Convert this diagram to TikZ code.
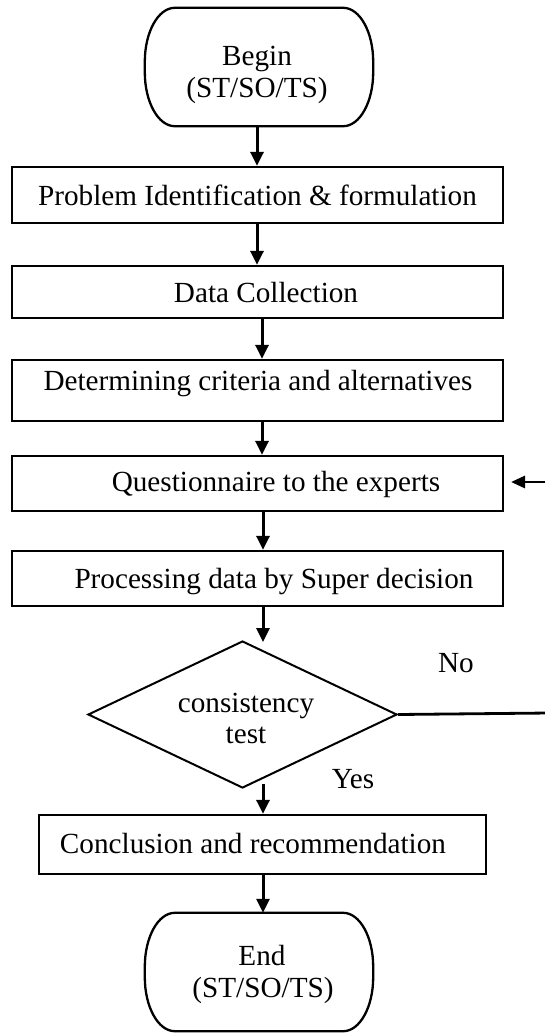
\documentclass[tikz,border=0pt]{standalone}
\usepackage{fontspec}
\setmainfont{Liberation Serif}
\usetikzlibrary{arrows.meta,shapes.geometric}
\begin{document}
\begin{tikzpicture}[x=1pt,y=-1pt,
  box/.style={draw,line width=2.3pt,minimum width=491pt,inner sep=0pt},
  termnode/.style={minimum width=228pt,minimum height=118pt,inner sep=0pt},
  termline/.style={line width=2.3pt},
  txt/.style={font=\fontsize{29.2}{32}\selectfont,inner sep=0pt,anchor=base},
  arr/.style={line width=3pt,-{Triangle[length=14pt,width=13pt]}},
  fb/.style={line width=2.8pt}]
\useasboundingbox (0,0) rectangle (545,1034);
\clip (0,0) rectangle (545,1034);

% shapes
\node[termnode] (begin) at (259,67) {};
\node[box,minimum height=56pt] (b1) at (257.5,195) {};
\node[box,minimum height=52pt] (b2) at (257.5,292) {};
\node[box,minimum height=61pt] (b3) at (257.5,390.5) {};
\node[box,minimum height=55pt] (b4) at (257.5,483.5) {};
\node[box,minimum height=55pt] (b5) at (257.5,578.5) {};
\node[draw,line width=2pt,diamond,aspect=2.1,minimum width=309pt,minimum height=147pt,inner sep=0pt] (d) at (242.5,714.5) {};
\node[box,minimum width=447pt,minimum height=59pt] (b6) at (262.5,844.5) {};
\node[termnode] (end) at (259,972) {};

% terminal outlines (elliptical ends)
\foreach \t in {begin,end}{
  \draw[termline] ([xshift=30pt]\t.north west) -- ([xshift=-30pt]\t.north east)
    arc[start angle=90,end angle=0,x radius=30pt,y radius=54pt]
    -- ([yshift=54pt]\t.south east)
    arc[start angle=0,end angle=-90,x radius=30pt,y radius=54pt]
    -- ([xshift=30pt]\t.south west)
    arc[start angle=270,end angle=180,x radius=30pt,y radius=54pt]
    -- ([yshift=-54pt]\t.north west)
    arc[start angle=180,end angle=90,x radius=30pt,y radius=54pt]
    -- cycle;
}

% texts
\node[txt] (tbeginA) at (257,65) {Begin};
\node[txt] (tbeginB) at (257,97) {(ST/SO/TS)};
\node[txt] (t1) at (257.5,205) {Problem Identification \& formulation};
\node[txt] (t2) at (266,302) {Data Collection};
\node[txt] (t3) at (258,390) {Determining criteria and alternatives};
\node[txt] (t4) at (276,491) {Questionnaire to the experts};
\node[txt] (t5) at (274,588) {Processing data by Super decision};
\node[txt] (td1) at (246,712) {consistency};
\node[txt] (td2) at (246,743) {test};
\node[txt] (tno) at (456,672) {No};
\node[txt] (tyes) at (353,788) {Yes};
\node[txt] (t6) at (253,853) {Conclusion and recommendation};
\node[txt] (tendA) at (262,965) {End};
\node[txt] (tendB) at (263,997) {(ST/SO/TS)};

% connector columns
\coordinate (xa) at (257,0);
\coordinate (xb) at (262,0);
\coordinate (xc) at (263,0);

\draw[arr] (begin.south -| xa) -- (b1.north -| xa);
\draw[arr] (b1.south -| xa) -- (b2.north -| xa);
\draw[arr] (b2.south -| xb) -- (b3.north -| xb);
\draw[arr] (b3.south -| xb) -- (b4.north -| xb);
\draw[arr] (b4.south -| xc) -- (b5.north -| xc);
\draw[arr] (b5.south -| xc) -- ([yshift=-2pt]d.north -| xc);
\draw[arr] ([yshift=5pt]d.south -| xc) -- (b6.north -| xc);
\draw[arr] (b6.south -| xc) -- (end.north -| xc);

% feedback (No branch)
\coordinate (fbA) at (549,713);
\coordinate (fbB) at (549,482);
\coordinate (fbT) at (511,482);
\draw[fb] (d.east) -- (fbA) -- (fbB);
\draw[fb,-{Triangle[length=14pt,width=12pt]}] (fbB) -- (fbT);
\end{tikzpicture}
\end{document}
